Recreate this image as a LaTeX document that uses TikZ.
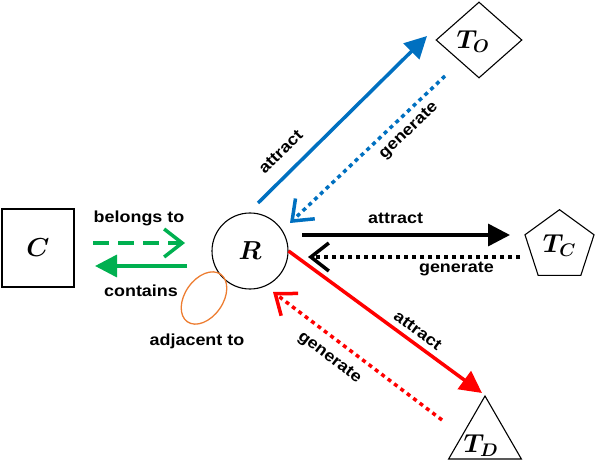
\RequirePackage{fix-cm}
\documentclass[tikz,border=0pt]{standalone}
\usepackage{fontspec}
\setmainfont[FakeStretch=1.12]{Liberation Sans}
\usetikzlibrary{shapes.geometric, arrows.meta, positioning}
\definecolor{relblue}{HTML}{0070C0}
\definecolor{relgreen}{HTML}{00B050}
\definecolor{relred}{HTML}{FF0000}
\definecolor{relorange}{HTML}{ED7D31}

\begin{document}
\begin{tikzpicture}[x=1pt, y=-1pt,
      ent/.style={draw=black, line width=1.1pt, inner sep=0pt, font=\fontsize{26}{26}\selectfont\boldmath},
      lab/.style={font=\bfseries\fontsize{16}{16}\selectfont, text=black, inner sep=2pt},
      attr/.style={line width=3.5pt, -{Triangle[length=22pt,width=22pt]}},
      gen/.style={line width=3.5pt, dash pattern=on 4pt off 4pt, -{Straight Barb[length=18pt,width=28pt]}}
    ]
      \useasboundingbox (0,0) rectangle (596,462);

      % entities
      \node[ent, rectangle, minimum width=72pt, minimum height=78pt] (C) at (38,248) {$C$};
      \node[ent, circle, minimum size=76pt] (R) at (250,251) {$R$};
      \node[ent, diamond, minimum width=86pt, minimum height=76pt] (TO) at (479,40) {};
      \node[font=\fontsize{26}{26}\selectfont\boldmath, inner sep=0pt] (TOlab) at (473,42) {$T_O$};
      \node[ent, regular polygon, regular polygon sides=5, minimum size=72.6pt] (TC) at (559.5,246) {$T_C$};
      \node[ent, regular polygon, regular polygon sides=3, minimum size=84pt] (TD) at (485,438) {};
      \node[font=\fontsize{26}{26}\selectfont\boldmath, inner sep=0pt] (TDlab) at (481,446) {$T_D$};

      % arrow ends
      \coordinate (oa1) at (258,203);  \coordinate (oa2) at (427,36);
      \coordinate (og1) at (445,76);   \coordinate (og2) at (290,223);
      \coordinate (ca1) at (302,235);  \coordinate (ca2) at (510,235);
      \coordinate (cg1) at (520,257);  \coordinate (cg2) at (308,257);
      \coordinate (da2) at (482,393);
      \coordinate (dg1) at (442,420);  \coordinate (dg2) at (273,292);
      \coordinate (bl1) at (93,243);   \coordinate (bl2) at (185,243);
      \coordinate (ct1) at (187,266);  \coordinate (ct2) at (95,266);

      % C -- R
      \draw[relgreen, line width=3.5pt, dash pattern=on 16pt off 9pt, -{Straight Barb[length=18pt,width=28pt]}]
        (bl1) -- node[lab, above=13.5pt] (belongs) {belongs to} (bl2);
      \draw[relgreen, attr] (ct1) -- node[lab, below=15pt] (contains) {contains} (ct2);

      % R -- TO
      \draw[relblue, attr] (oa1) -- node[lab, sloped, pos=0.22, above=11.5pt] {attract} (oa2);
      \draw[relblue, gen] (og1) -- node[lab, sloped, pos=0.30, below=4.5pt] {generate} (og2);

      % R -- TC
      \draw[black, attr] (ca1) -- node[lab, pos=0.45, above=7.5pt] {attract} (ca2);
      \draw[black, gen] (cg1) -- node[lab, pos=0.30, below=1pt] {generate} (cg2);

      % R -- TD
      \draw[relred, attr] (R.east) -- node[lab, sloped, pos=0.63, above=3.5pt] {attract} (da2);
      \draw[relred, gen] (dg1) -- node[lab, sloped, pos=0.60, below=8pt] {generate} (dg2);

      % R -- R
      \coordinate (adj) at (204,298);
      \draw[relorange, line width=1.3pt, rotate around={55:(adj)}] (adj) ellipse [x radius=29, y radius=19];
      \node[lab] (adjlab) at (197,341) {adjacent to};
    \end{tikzpicture}
\end{document}
